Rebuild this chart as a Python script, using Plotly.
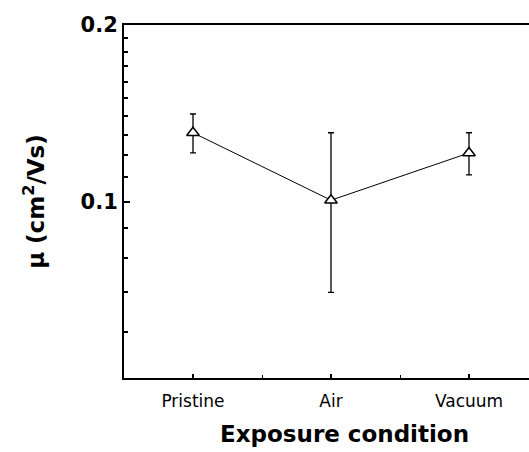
import math
import plotly.graph_objects as go

# Field-effect mobility for each exposure condition
conditions = ["Pristine", "Air", "Vacuum"]
mobility = [0.131, 0.1005, 0.121]
mobility_err = [0.0100, 0.0305, 0.0100]

y_major = [0.1, 0.2]
y_major_text = ["0.1", "0.2"]
y_minor = [0.06, 0.07, 0.08, 0.09, 0.11, 0.12, 0.13, 0.14, 0.15, 0.16, 0.17, 0.18, 0.19]

x_pos = list(range(1, len(conditions) + 1))

fig = go.Figure()
fig.add_trace(go.Scatter(
    x=x_pos,
    y=mobility,
    mode="lines+markers",
    line=dict(color="black", width=1),
    marker=dict(symbol="triangle-up", size=11, color="white",
                line=dict(color="black", width=1.5)),
    error_y=dict(type="data", array=mobility_err, visible=True,
                 color="black", thickness=1.3, width=3),
    showlegend=False,
))

fig.update_layout(
    width=529, height=452,
    margin=dict(l=124, r=0, t=25, b=74),
    paper_bgcolor="white", plot_bgcolor="white",
    font=dict(family="DejaVu Sans", color="black"),
)

# x-axis title, centred under the full (right-clipped) frame
fig.add_annotation(
    text="Exposure condition", xref="paper", yref="paper",
    x=0.545, y=0, yshift=-41, xanchor="center", yanchor="top",
    showarrow=False,
    font=dict(size=23, family="DejaVu Sans", weight="bold", color="black"),
)

fig.update_xaxes(
    range=[0.5, 0.5 + 405 / 138],
    tickmode="array", tickvals=x_pos, ticktext=conditions,
    ticks="inside", ticklen=4, tickwidth=1.5, tickcolor="black",
    tickfont=dict(size=17, family="DejaVu Sans"),
    ticklabelstandoff=7,
    minor=dict(tickvals=[1.5, 2.5], ticks="inside", ticklen=3,
               tickwidth=1.2, tickcolor="black"),
    showline=True, linecolor="black", linewidth=2, mirror=True,
    showgrid=False, zeroline=False,
)

fig.update_yaxes(
    type="log",
    range=[math.log10(0.05), math.log10(0.2)],
    tickmode="array", tickvals=y_major, ticktext=y_major_text,
    ticks="inside", ticklen=6, tickwidth=1.5, tickcolor="black",
    tickfont=dict(size=21, family="DejaVu Sans", weight="bold"),
    minor=dict(tickvals=y_minor, ticks="inside", ticklen=4,
               tickwidth=1.5, tickcolor="black"),
    showline=True, linecolor="black", linewidth=2, mirror=False,
    showgrid=False, zeroline=False,
    title=dict(text="μ (cm<sup>2</sup>/Vs)",
               font=dict(size=23, family="DejaVu Sans", weight="bold"),
               standoff=30),
)

fig.write_html("out.html")
